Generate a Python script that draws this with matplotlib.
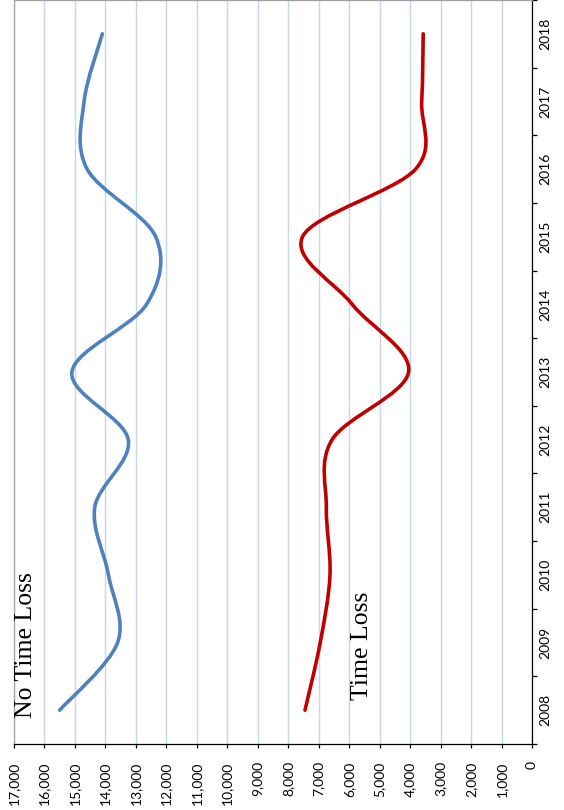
import matplotlib
matplotlib.use("Agg")
import matplotlib.pyplot as plt
from matplotlib.path import Path
from matplotlib.patches import PathPatch
from matplotlib.ticker import FixedLocator, FuncFormatter
import numpy as np

years = [2008, 2009, 2010, 2011, 2012, 2013, 2014, 2015, 2016, 2017, 2018]
no_time_loss = [15500, 13600, 13900, 14350, 13250, 15100, 12650, 12350, 14600, 14700, 14100]
time_loss = [7450, 6950, 6630, 6750, 6560, 4050, 5900, 7530, 3820, 3620, 3570]
value_ticks = list(range(0, 17001, 1000))

plt.rcParams['font.family'] = ['Lato', 'DejaVu Sans']

fig = plt.figure(figsize=(5.64, 8.10), dpi=100)
ax = fig.add_axes([14/564, 66/810, 518/564, 744/810])


def excel_smooth_path(vals):
    """Bezier path (value on x, category index on y) like Excel's smoothed line."""
    n = len(vals)
    pts = np.array([[v, i] for i, v in enumerate(vals)], dtype=float)
    verts = [tuple(pts[0])]
    codes = [Path.MOVETO]
    for i in range(n - 1):
        p0 = pts[i - 1] if i > 0 else pts[i]
        p1 = pts[i]
        p2 = pts[i + 1]
        p3 = pts[i + 2] if i + 2 < n else pts[i + 1]
        c1 = p1 + (p2 - p0) / 6.0
        c2 = p2 - (p3 - p1) / 6.0
        verts += [tuple(c1), tuple(c2), tuple(p2)]
        codes += [Path.CURVE4] * 3
    return Path(verts, codes)


ax.set_xlim(17000, 0)
ax.set_ylim(-0.5, len(years) - 0.5)

# gridlines
ax.xaxis.set_major_locator(FixedLocator(value_ticks))
ax.xaxis.set_major_formatter(FuncFormatter(lambda v, p: f"{int(v):,}"))
ax.grid(axis='x', color='#C5D5EA', linewidth=1.0)
ax.set_axisbelow(True)

for vals, col in [(no_time_loss, '#4F81BD'), (time_loss, '#C00000')]:
    patch = PathPatch(excel_smooth_path(vals), facecolor='none', edgecolor=col,
                      linewidth=2.6, capstyle='round', joinstyle='round', zorder=3)
    ax.add_patch(patch)

# category axis on the right
ax.yaxis.tick_right()
ax.yaxis.set_major_locator(FixedLocator(np.arange(-0.5, len(years), 1.0)))
ax.yaxis.set_major_formatter(FuncFormatter(lambda v, p: ""))
ax.yaxis.set_minor_locator(FixedLocator(np.arange(len(years))))
ax.set_yticklabels([str(y) for y in years], minor=True)
ax.tick_params(axis='y', which='major', direction='out', length=3.6, width=0.9, color='#000000', right=True, left=False)
ax.tick_params(axis='y', which='minor', length=0, pad=5.5, labelsize=10, labelrotation=90, right=True, left=False)
for lab in ax.get_yticklabels(minor=True):
    lab.set_verticalalignment('center')

ax.tick_params(axis='x', which='major', direction='out', length=3.0, width=0.9, color='#000000',
               pad=9.5, labelsize=10, labelrotation=90)

for s in ['right', 'bottom']:
    ax.spines[s].set_color('#000000')
    ax.spines[s].set_linewidth(0.9)
for s in ['left', 'top']:
    ax.spines[s].set_color('#A0A0A0')
    ax.spines[s].set_linewidth(0.9)

ax.text((32 - 14) / 518, (744 - 718) / 744, "No Time Loss", transform=ax.transAxes,
        rotation=90, rotation_mode='anchor', ha='left', va='baseline',
        fontsize=18.5, family=['Liberation Serif', 'DejaVu Serif'], color='#000000')
ax.text((368 - 14) / 518, (744 - 700) / 744, "Time Loss", transform=ax.transAxes,
        rotation=90, rotation_mode='anchor', ha='left', va='baseline',
        fontsize=18.5, family=['Liberation Serif', 'DejaVu Serif'], color='#000000')

fig.savefig("out.png", dpi=100)
